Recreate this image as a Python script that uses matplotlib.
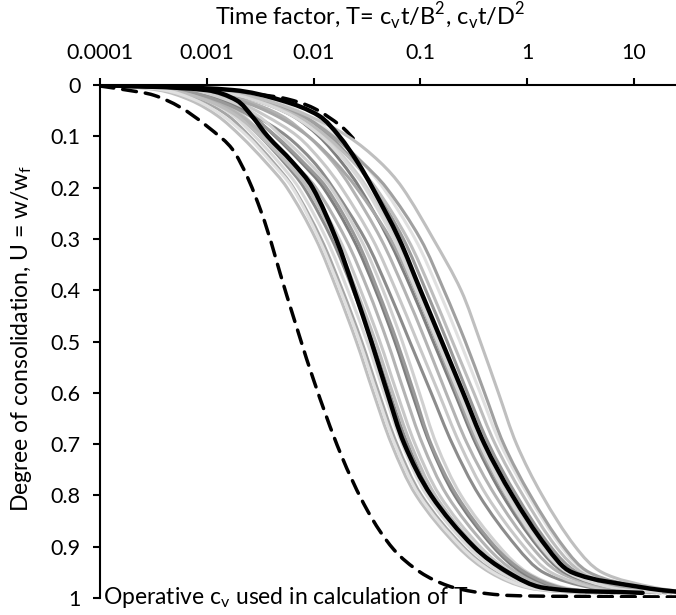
import numpy as np
import matplotlib
matplotlib.use("Agg")
import matplotlib.pyplot as plt
from matplotlib.path import Path
from matplotlib.patches import PathPatch

plt.rcParams['font.family'] = ['Lato', 'DejaVu Sans']
plt.rcParams['mathtext.fontset'] = 'custom'
plt.rcParams['mathtext.rm'] = 'Lato'

# Degree of consolidation levels at which each curve's time factor was read
U_levels = [0, 0.01, 0.03, 0.06, 0.1, 0.15, 0.2, 0.3, 0.4, 0.5, 0.6, 0.7, 0.8, 0.9, 0.95, 0.98, 0.99]

# log10 of time factor T at each U level
left_black_log10T = [-4, -3.0, -2.72, -2.58, -2.43, -2.2, -2.01, -1.79, -1.62, -1.46, -1.31, -1.15, -0.9, -0.5, -0.18, 0.15, 1.08]
right_black_log10T = [-4, -2.75, -2.3, -1.95, -1.76, -1.59, -1.45, -1.2, -1.0, -0.8, -0.6, -0.4, -0.14, 0.18, 0.42, 1.1, 1.5]

left_grey_log10T = [
    [-4, -3.45, -3.15, -2.9, -2.68, -2.45, -2.25, -1.98, -1.78, -1.6, -1.44, -1.27, -1.04, -0.65, -0.35, 0.0, 0.5],
    [-4, -3.35, -3.05, -2.8, -2.6, -2.38, -2.19, -1.93, -1.73, -1.55, -1.39, -1.22, -0.99, -0.6, -0.3, 0.05, 0.55],
    [-4, -3.3, -3.0, -2.75, -2.55, -2.33, -2.14, -1.88, -1.68, -1.5, -1.34, -1.17, -0.94, -0.55, -0.25, 0.1, 0.6],
    [-4, -3.25, -2.95, -2.7, -2.5, -2.28, -2.09, -1.83, -1.63, -1.45, -1.29, -1.12, -0.89, -0.5, -0.2, 0.15, 0.65],
    [-4, -3.2, -2.9, -2.66, -2.46, -2.23, -2.03, -1.76, -1.56, -1.38, -1.22, -1.05, -0.82, -0.44, -0.15, 0.2, 0.7],
    [-4, -3.3, -2.95, -2.68, -2.45, -2.2, -1.98, -1.7, -1.49, -1.31, -1.15, -0.98, -0.75, -0.38, -0.1, 0.25, 0.75],
    [-4, -3.2, -2.85, -2.58, -2.36, -2.12, -1.91, -1.63, -1.42, -1.24, -1.08, -0.91, -0.68, -0.32, -0.05, 0.3, 0.8],
    [-4, -3.15, -2.8, -2.52, -2.3, -2.05, -1.84, -1.56, -1.35, -1.17, -1.01, -0.85, -0.62, -0.26, 0.0, 0.35, 0.85],
    [-4, -3.25, -2.9, -2.6, -2.35, -2.1, -1.88, -1.6, -1.4, -1.22, -1.06, -0.9, -0.66, -0.3, -0.02, 0.32, 0.82],
    [-4, -3.35, -3.0, -2.72, -2.5, -2.26, -2.06, -1.8, -1.6, -1.42, -1.26, -1.09, -0.86, -0.48, -0.18, 0.18, 0.68],
    [-4, -3.4, -3.1, -2.85, -2.62, -2.4, -2.2, -1.95, -1.75, -1.57, -1.41, -1.24, -1.01, -0.62, -0.32, 0.03, 0.53],
]

right_grey_log10T = [
    [-4, -3.3, -2.85, -2.55, -2.25, -2.0, -1.82, -1.52, -1.3, -1.1, -0.9, -0.7, -0.45, -0.1, 0.15, 0.6, 1.1],
    [-4, -3.2, -2.75, -2.45, -2.15, -1.92, -1.74, -1.45, -1.23, -1.03, -0.83, -0.63, -0.38, -0.03, 0.22, 0.65, 1.15],
    [-4, -3.1, -2.65, -2.3, -2.05, -1.82, -1.65, -1.37, -1.15, -0.95, -0.76, -0.56, -0.3, 0.04, 0.3, 0.75, 1.2],
    [-4, -3.0, -2.55, -2.2, -1.95, -1.74, -1.57, -1.3, -1.08, -0.88, -0.68, -0.48, -0.23, 0.1, 0.35, 0.8, 1.25],
    [-4, -3.05, -2.5, -2.15, -1.9, -1.68, -1.5, -1.23, -1.02, -0.82, -0.63, -0.43, -0.18, 0.15, 0.4, 0.9, 1.3],
    [-4, -2.9, -2.45, -2.1, -1.85, -1.62, -1.44, -1.16, -0.95, -0.75, -0.56, -0.36, -0.1, 0.22, 0.47, 0.95, 1.35],
    [-4, -2.95, -2.5, -2.15, -1.88, -1.63, -1.42, -1.12, -0.9, -0.7, -0.5, -0.3, -0.04, 0.27, 0.52, 1.0, 1.4],
    [-4, -2.85, -2.4, -2.05, -1.8, -1.55, -1.35, -1.05, -0.83, -0.63, -0.44, -0.25, 0.01, 0.32, 0.56, 1.05, 1.45],
    [-4, -2.9, -2.45, -2.1, -1.82, -1.55, -1.32, -1.0, -0.78, -0.58, -0.4, -0.22, 0.03, 0.34, 0.58, 1.08, 1.5],
    [-4, -3.0, -2.45, -2.05, -1.68, -1.38, -1.17, -0.88, -0.62, -0.44, -0.27, -0.1, 0.14, 0.45, 0.7, 1.2, 1.6],
    [-4, -3.15, -2.7, -2.35, -2.05, -1.8, -1.6, -1.28, -1.05, -0.85, -0.66, -0.46, -0.2, 0.12, 0.38, 0.85, 1.3],
    [-4, -2.95, -2.55, -2.2, -1.93, -1.7, -1.52, -1.25, -1.04, -0.84, -0.64, -0.44, -0.19, 0.13, 0.38, 0.8, 1.25],
]

# Dashed reference curves: T and U read directly
dash_left_T = [0.0001, 0.00018, 0.00032, 0.00056, 0.001, 0.0018, 0.0032, 0.0056, 0.01, 0.018,
               0.032, 0.056, 0.1, 0.18, 0.32, 0.56, 1, 3, 25]
dash_left_U = [0.002, 0.01, 0.02, 0.043, 0.08, 0.13, 0.245, 0.41, 0.575, 0.72,
               0.83, 0.905, 0.95, 0.976, 0.988, 0.994, 0.996, 0.997, 0.998]
dash_right_T = [0.0001, 0.00018, 0.00032, 0.00056, 0.001, 0.0018, 0.0032, 0.0056, 0.01, 0.018, 0.025]
dash_right_U = [0.0, 0.003, 0.005, 0.008, 0.01, 0.014, 0.019, 0.027, 0.045, 0.08, 0.11]

grey_colours = ['#bfbfbf', '#a6a6a6', '#d9d9d9', '#8c8c8c', '#c8c8c8', '#b3b3b3',
                '#7f7f7f', '#d0d0d0', '#999999', '#bdbdbd', '#e0e0e0', '#a0a0a0']

x_ticks = [0.0001, 0.001, 0.01, 0.1, 1, 10]
x_tick_labels = ['0.0001', '0.001', '0.01', '0.1', '1', '10']
y_ticks = [0, 0.1, 0.2, 0.3, 0.4, 0.5, 0.6, 0.7, 0.8, 0.9, 1]
y_tick_labels = ['0', '0.1', '0.2', '0.3', '0.4', '0.5', '0.6', '0.7', '0.8', '0.9', '1']

PX_DEC = 106.8   # pixel per decade, used only for smooth-line control points
PX_U = 513.0


def smooth_path(T, U):
    """Excel-like smoothed line through the given points (chord-length Catmull-Rom)."""
    P = np.column_stack([np.log10(T) * PX_DEC, np.asarray(U, float) * PX_U])
    n = len(P)
    d = np.maximum(np.linalg.norm(np.diff(P, axis=0), axis=1), 1e-9)
    m = np.zeros_like(P)
    for i in range(n):
        if i == 0:
            m[i] = (P[1] - P[0]) / d[0]
        elif i == n - 1:
            m[i] = (P[-1] - P[-2]) / d[-1]
        else:
            m[i] = (P[i + 1] - P[i - 1]) / (d[i - 1] + d[i])
    verts = [P[0]]
    codes = [Path.MOVETO]
    for i in range(n - 1):
        c1 = P[i] + m[i] * d[i] / 3
        c2 = P[i + 1] - m[i + 1] * d[i] / 3
        verts += [c1, c2, P[i + 1]]
        codes += [Path.CURVE4] * 3
    V = np.array(verts)
    return Path(np.column_stack([10 ** (V[:, 0] / PX_DEC), V[:, 1] / PX_U]), codes)


def draw(ax, T, U, **kw):
    patch = PathPatch(smooth_path(T, U), fill=False, capstyle='round', joinstyle='round', **kw)
    ax.add_patch(patch)


fig = plt.figure(figsize=(6.76, 6.15), dpi=100)
ax = fig.add_axes([100 / 676, 1 - 598 / 615, 1 - 100 / 676, (598 - 85) / 615])
ax.set_xscale('log')
ax.set_xlim(1e-4, 24.7)
ax.set_ylim(1, 0)

draw(ax, dash_right_T, dash_right_U, edgecolor='black', lw=2.5, ls=(0, (4, 2.6)), zorder=1.5)

for i, c in enumerate(right_grey_log10T):
    draw(ax, 10 ** np.array(c), U_levels, edgecolor=grey_colours[(i + 3) % len(grey_colours)], lw=2.2, zorder=2)
for i, c in enumerate(left_grey_log10T):
    draw(ax, 10 ** np.array(c), U_levels, edgecolor=grey_colours[i % len(grey_colours)], lw=2.2, zorder=2)

draw(ax, 10 ** np.array(left_black_log10T), U_levels, edgecolor='black', lw=3.2, zorder=3)
draw(ax, 10 ** np.array(right_black_log10T), U_levels, edgecolor='black', lw=3.2, zorder=3)
draw(ax, dash_left_T, dash_left_U, edgecolor='black', lw=2.5, ls=(0, (4, 2.6)), zorder=4)

ax.set_xticks(x_ticks)
ax.set_xticklabels(x_tick_labels)
ax.minorticks_off()
ax.set_yticks(y_ticks)
ax.set_yticklabels(y_tick_labels)

ax.xaxis.tick_top()
ax.tick_params(axis='x', which='both', top=True, bottom=False, labeltop=True, labelbottom=False,
               direction='out', length=5, width=1.5, labelsize=15.5, pad=11)
ax.tick_params(axis='y', direction='out', length=5, width=1.5, labelsize=15.5, pad=9)

for s in ['right', 'bottom']:
    ax.spines[s].set_visible(False)
for s in ['top', 'left']:
    ax.spines[s].set_linewidth(1.5)

fig.text(370 / 676, 1 - 17 / 615,
         r'Time factor, T= c$_\mathregular{v}$t/B$^\mathregular{2}$, c$_\mathregular{v}$t/D$^\mathregular{2}$',
         fontsize=17, ha='center', va='center')
fig.text(22 / 676, 1 - 338 / 615, r'Degree of consolidation, U = w/w$_\mathregular{f}$',
         fontsize=16.5, rotation=90, ha='center', va='center')

ax.text(1.07e-4, 1.0, r'Operative c$_\mathregular{v}$ used in calculation of T', fontsize=16.5,
        ha='left', va='center', zorder=5)

fig.savefig('out.png', dpi=100)
